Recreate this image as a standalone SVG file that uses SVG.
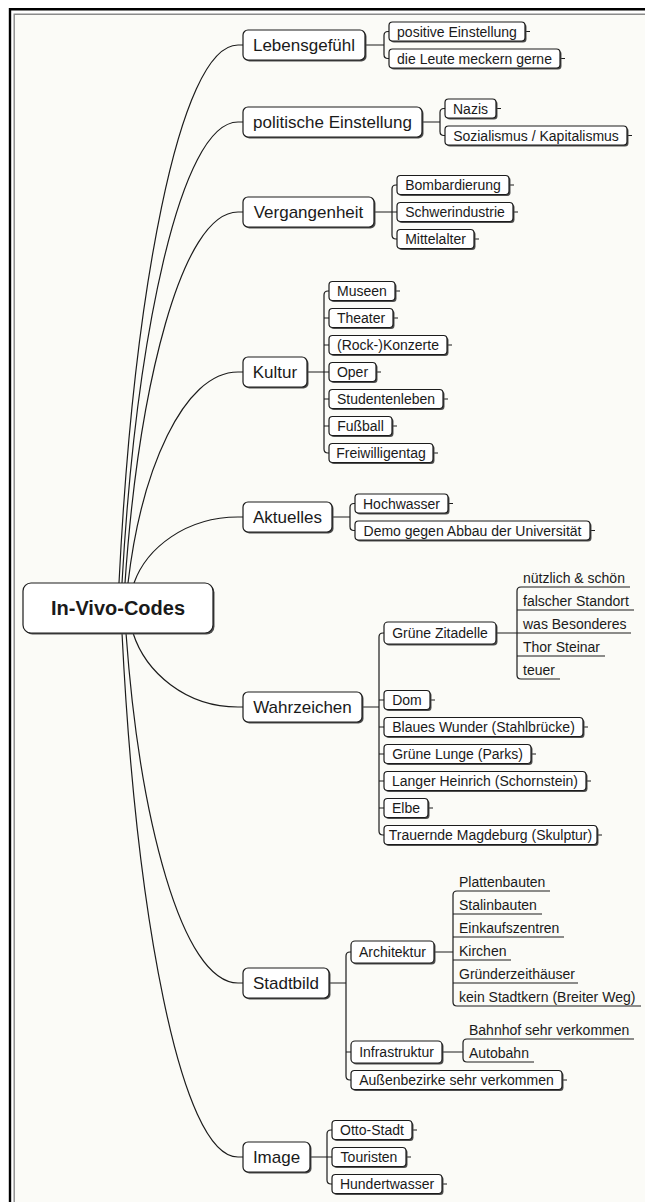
<svg xmlns="http://www.w3.org/2000/svg" width="645" height="1202" viewBox="0 0 645 1202">
<style>
.s{fill:#4e4e4e}
.b{fill:#fff;stroke:#1c1c1c;stroke-width:1.2}
.m{font-family:"Liberation Sans",Arial,sans-serif;font-size:17px;fill:#1a1a1a;text-anchor:middle}
.n{font-family:"Liberation Sans",Arial,sans-serif;font-size:14px;fill:#1a1a1a;text-anchor:middle}
.u{font-family:"Liberation Sans",Arial,sans-serif;font-size:14px;fill:#1a1a1a}
.r{font-family:"Liberation Sans",Arial,sans-serif;font-size:20px;font-weight:bold;fill:#1a1a1a;text-anchor:middle}
.c{fill:none;stroke:#1c1c1c;stroke-width:1.2}
</style>
<rect x="0" y="0" width="645" height="1202" fill="#fff"/>
<rect x="14" y="14" width="631" height="1188" fill="#fbfbf7"/>
<path d="M10,1202 V9.2 H645" fill="none" stroke="#000" stroke-width="2.4"/>
<path d="M14.2,1202 V14.2 H645" fill="none" stroke="#8a8a8a" stroke-width="1.4"/>

<g id="connectors" class="c">
<path d="M119,583 C133.3,297.9 178.5,45 238,45 H243"/>
<path d="M122,583 C135.9,338.7 180,122 238,122 H243"/>
<path d="M125,583 C138.6,386.4 181.5,212 238,212 H243"/>
<path d="M128,583 C141.2,471.2 183,372 238,372 H243"/>
<path d="M134,583 C146.5,548 186,517 238,517 H243"/>
<path d="M133,633 C145.6,672.2 185.5,707 238,707 H243"/>
<path d="M126,633 C139.4,818.5 182,983 238,983 H243"/>
<path d="M122,633 C135.9,910.7 180,1157 238,1157 H243"/>

<path d="M365,45 H384 M389,31.5 H388 Q384,31.5 384,35.5 V54.5 Q384,58.5 388,58.5 H389"/>
<path d="M422,122 H440 M445,108.5 H444 Q440,108.5 440,112.5 V131.5 Q440,135.5 444,135.5 H445"/>
<path d="M374,212 H397 M397,185 H396 Q392,185 392,189 V235 Q392,239 396,239 H397"/>
<path d="M307,372 H329 M329,291 H328 Q324,291 324,295 V449 Q324,453 328,453 H329 M324,318 H329 M324,345 H329 M324,399 H329 M324,426 H329"/>
<path d="M332,517 H350 M355,503.5 H354 Q350,503.5 350,507.5 V526.5 Q350,530.5 354,530.5 H355"/>
<path d="M362,707 H379 M384,633 H383 Q379,633 379,637 V831 Q379,835 383,835 H384 M379,700 H384 M379,727 H384 M379,754 H384 M379,781 H384 M379,808 H384"/>
<path d="M496,633 H517 M630,587 H521 Q517,587 517,591 V675 Q517,679 521,679 H560 M517,610 H634 M517,633 H631 M517,656 H605"/>
<path d="M329,983 H346 M351,952 H350 Q346,952 346,956 V1076 Q346,1080 350,1080 H351 M346,1052 H351"/>
<path d="M434,952 H453 M550,891 H457 Q453,891 453,895 V1002 Q453,1006 457,1006 H641 M453,914 H542 M453,937 H564 M453,960 H511 M453,983 H578"/>
<path d="M442,1052 H463 M634,1039 H467 Q463,1039 463,1043 V1058 Q463,1062 467,1062 H534"/>
<path d="M310,1157 H332 M332,1130 H331 Q327,1130 327,1134 V1180 Q327,1184 331,1184 H332"/>

<path d="M525,31.5 h5 M560,58.5 h5 M496,108.5 h5 M627,135.5 h5 M509,185 h5 M513,212 h5 M474,239 h5 M395,291 h5 M393,318 h5 M447,345 h5 M376,372 h5 M443,399 h5 M392,426 h5 M433,453 h5 M448,503.5 h5 M590,530.5 h5 M430,700 h5 M583,727 h5 M531,754 h5 M586,781 h5 M428,808 h5 M597,835 h5 M562,1080 h5 M412,1130 h5 M406,1157 h5 M442,1184 h5"/>
</g>

<g id="root"><rect class="s" x="24.5" y="584.5" width="190" height="50" rx="8"/><rect class="b" x="23" y="583" width="190" height="50" rx="8"/><text class="r" x="118" y="615">In-Vivo-Codes</text></g>

<g id="lebensgefuehl"><rect class="s" x="244.5" y="31.5" width="122" height="30" rx="5"/><rect class="b" x="243" y="30" width="122" height="30" rx="5"/><text class="m" x="304" y="51">Lebensgefühl</text></g>
<g id="politische"><rect class="s" x="244.5" y="108.5" width="179" height="30" rx="5"/><rect class="b" x="243" y="107" width="179" height="30" rx="5"/><text class="m" x="332.5" y="128">politische Einstellung</text></g>
<g id="vergangenheit"><rect class="s" x="244.5" y="198.5" width="131" height="30" rx="5"/><rect class="b" x="243" y="197" width="131" height="30" rx="5"/><text class="m" x="308.5" y="218">Vergangenheit</text></g>
<g id="kultur"><rect class="s" x="244.5" y="358.5" width="64" height="30" rx="5"/><rect class="b" x="243" y="357" width="64" height="30" rx="5"/><text class="m" x="275" y="378">Kultur</text></g>
<g id="aktuelles"><rect class="s" x="244.5" y="503.5" width="89" height="30" rx="5"/><rect class="b" x="243" y="502" width="89" height="30" rx="5"/><text class="m" x="287.5" y="523">Aktuelles</text></g>
<g id="wahrzeichen"><rect class="s" x="244.5" y="693.5" width="119" height="30" rx="5"/><rect class="b" x="243" y="692" width="119" height="30" rx="5"/><text class="m" x="302.5" y="713">Wahrzeichen</text></g>
<g id="stadtbild"><rect class="s" x="244.5" y="969.5" width="86" height="30" rx="5"/><rect class="b" x="243" y="968" width="86" height="30" rx="5"/><text class="m" x="286" y="989">Stadtbild</text></g>
<g id="image"><rect class="s" x="244.5" y="1143.5" width="67" height="30" rx="5"/><rect class="b" x="243" y="1142" width="67" height="30" rx="5"/><text class="m" x="276.5" y="1163">Image</text></g>

<g id="positive"><rect class="s" x="390.5" y="23.5" width="136" height="19" rx="3.5"/><rect class="b" x="389" y="22" width="136" height="19" rx="3.5"/><text class="n" x="457" y="36.5">positive Einstellung</text></g>
<g id="leute"><rect class="s" x="390.5" y="50.5" width="171" height="19" rx="3.5"/><rect class="b" x="389" y="49" width="171" height="19" rx="3.5"/><text class="n" x="474.5" y="63.5">die Leute meckern gerne</text></g>
<g id="nazis"><rect class="s" x="446.5" y="100.5" width="51" height="19" rx="3.5"/><rect class="b" x="445" y="99" width="51" height="19" rx="3.5"/><text class="n" x="470.5" y="113.5">Nazis</text></g>
<g id="sozialismus"><rect class="s" x="446.5" y="127.5" width="182" height="19" rx="3.5"/><rect class="b" x="445" y="126" width="182" height="19" rx="3.5"/><text class="n" x="536" y="140.5">Sozialismus / Kapitalismus</text></g>
<g id="bombardierung"><rect class="s" x="398.5" y="177" width="112" height="19" rx="3.5"/><rect class="b" x="397" y="175.5" width="112" height="19" rx="3.5"/><text class="n" x="453" y="190">Bombardierung</text></g>
<g id="schwerindustrie"><rect class="s" x="398.5" y="204" width="116" height="19" rx="3.5"/><rect class="b" x="397" y="202.5" width="116" height="19" rx="3.5"/><text class="n" x="455" y="217">Schwerindustrie</text></g>
<g id="mittelalter"><rect class="s" x="398.5" y="231" width="77" height="19" rx="3.5"/><rect class="b" x="397" y="229.5" width="77" height="19" rx="3.5"/><text class="n" x="435.5" y="244">Mittelalter</text></g>

<g id="museen"><rect class="s" x="330.5" y="283" width="66" height="19" rx="3.5"/><rect class="b" x="329" y="281.5" width="66" height="19" rx="3.5"/><text class="n" x="362" y="296">Museen</text></g>
<g id="theater"><rect class="s" x="330.5" y="310" width="64" height="19" rx="3.5"/><rect class="b" x="329" y="308.5" width="64" height="19" rx="3.5"/><text class="n" x="361" y="323">Theater</text></g>
<g id="konzerte"><rect class="s" x="330.5" y="337" width="118" height="19" rx="3.5"/><rect class="b" x="329" y="335.5" width="118" height="19" rx="3.5"/><text class="n" x="388" y="350">(Rock-)Konzerte</text></g>
<g id="oper"><rect class="s" x="330.5" y="364" width="47" height="19" rx="3.5"/><rect class="b" x="329" y="362.5" width="47" height="19" rx="3.5"/><text class="n" x="352.5" y="377">Oper</text></g>
<g id="studentenleben"><rect class="s" x="330.5" y="391" width="114" height="19" rx="3.5"/><rect class="b" x="329" y="389.5" width="114" height="19" rx="3.5"/><text class="n" x="386" y="404">Studentenleben</text></g>
<g id="fussball"><rect class="s" x="330.5" y="418" width="63" height="19" rx="3.5"/><rect class="b" x="329" y="416.5" width="63" height="19" rx="3.5"/><text class="n" x="360.5" y="431">Fußball</text></g>
<g id="freiwilligentag"><rect class="s" x="330.5" y="445" width="104" height="19" rx="3.5"/><rect class="b" x="329" y="443.5" width="104" height="19" rx="3.5"/><text class="n" x="381" y="458">Freiwilligentag</text></g>

<g id="hochwasser"><rect class="s" x="356.5" y="495.5" width="93" height="19" rx="3.5"/><rect class="b" x="355" y="494" width="93" height="19" rx="3.5"/><text class="n" x="401.5" y="508.5">Hochwasser</text></g>
<g id="demo"><rect class="s" x="356.5" y="522.5" width="235" height="19" rx="3.5"/><rect class="b" x="355" y="521" width="235" height="19" rx="3.5"/><text class="n" x="472.5" y="535.5">Demo gegen Abbau der Universität</text></g>

<g id="zitadelle"><rect class="s" x="385.5" y="623.5" width="112" height="22" rx="4"/><rect class="b" x="384" y="622" width="112" height="22" rx="4"/><text class="n" x="440" y="638">Grüne Zitadelle</text></g>
<g id="zitadelle-items">
<text class="u" x="523" y="583">nützlich &amp; schön</text>
<text class="u" x="523" y="606">falscher Standort</text>
<text class="u" x="523" y="629">was Besonderes</text>
<text class="u" x="523" y="652">Thor Steinar</text>
<text class="u" x="523" y="675">teuer</text>
</g>
<g id="dom"><rect class="s" x="385.5" y="692" width="46" height="19" rx="3.5"/><rect class="b" x="384" y="690.5" width="46" height="19" rx="3.5"/><text class="n" x="407" y="705">Dom</text></g>
<g id="blaues"><rect class="s" x="385.5" y="719" width="199" height="19" rx="3.5"/><rect class="b" x="384" y="717.5" width="199" height="19" rx="3.5"/><text class="n" x="483.5" y="732">Blaues Wunder (Stahlbrücke)</text></g>
<g id="lunge"><rect class="s" x="385.5" y="746" width="147" height="19" rx="3.5"/><rect class="b" x="384" y="744.5" width="147" height="19" rx="3.5"/><text class="n" x="457.5" y="759">Grüne Lunge (Parks)</text></g>
<g id="heinrich"><rect class="s" x="385.5" y="773" width="202" height="19" rx="3.5"/><rect class="b" x="384" y="771.5" width="202" height="19" rx="3.5"/><text class="n" x="485" y="786">Langer Heinrich (Schornstein)</text></g>
<g id="elbe"><rect class="s" x="385.5" y="800" width="44" height="19" rx="3.5"/><rect class="b" x="384" y="798.5" width="44" height="19" rx="3.5"/><text class="n" x="406" y="813">Elbe</text></g>
<g id="trauernde"><rect class="s" x="385.5" y="827" width="213" height="19" rx="3.5"/><rect class="b" x="384" y="825.5" width="213" height="19" rx="3.5"/><text class="n" x="490.5" y="840">Trauernde Magdeburg (Skulptur)</text></g>

<g id="architektur"><rect class="s" x="352.5" y="942.5" width="83" height="22" rx="4"/><rect class="b" x="351" y="941" width="83" height="22" rx="4"/><text class="n" x="392.5" y="957">Architektur</text></g>
<g id="architektur-items">
<text class="u" x="459" y="887">Plattenbauten</text>
<text class="u" x="459" y="910">Stalinbauten</text>
<text class="u" x="459" y="933">Einkaufszentren</text>
<text class="u" x="459" y="956">Kirchen</text>
<text class="u" x="459" y="979">Gründerzeithäuser</text>
<text class="u" x="459" y="1002">kein Stadtkern (Breiter Weg)</text>
</g>
<g id="infrastruktur"><rect class="s" x="352.5" y="1042.5" width="91" height="22" rx="4"/><rect class="b" x="351" y="1041" width="91" height="22" rx="4"/><text class="n" x="396.5" y="1057">Infrastruktur</text></g>
<g id="infrastruktur-items">
<text class="u" x="469" y="1035">Bahnhof sehr verkommen</text>
<text class="u" x="469" y="1058">Autobahn</text>
</g>
<g id="aussenbezirke"><rect class="s" x="352.5" y="1072" width="211" height="19" rx="3.5"/><rect class="b" x="351" y="1070.5" width="211" height="19" rx="3.5"/><text class="n" x="456.5" y="1085">Außenbezirke sehr verkommen</text></g>

<g id="otto"><rect class="s" x="333.5" y="1122" width="80" height="19" rx="3.5"/><rect class="b" x="332" y="1120.5" width="80" height="19" rx="3.5"/><text class="n" x="372" y="1135">Otto-Stadt</text></g>
<g id="touristen"><rect class="s" x="333.5" y="1149" width="74" height="19" rx="3.5"/><rect class="b" x="332" y="1147.5" width="74" height="19" rx="3.5"/><text class="n" x="369" y="1162">Touristen</text></g>
<g id="hundertwasser"><rect class="s" x="333.5" y="1176" width="110" height="19" rx="3.5"/><rect class="b" x="332" y="1174.5" width="110" height="19" rx="3.5"/><text class="n" x="387" y="1189">Hundertwasser</text></g>
</svg>
